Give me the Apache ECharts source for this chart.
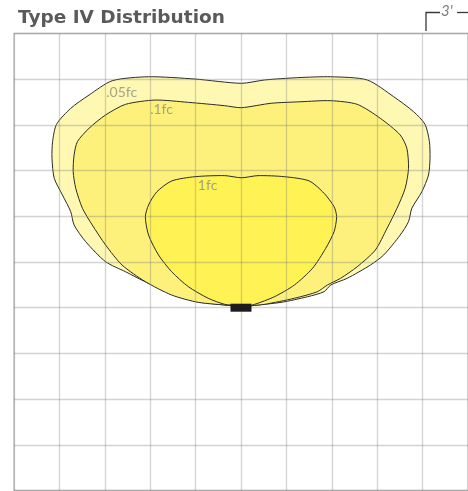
<!DOCTYPE html>
<html>
<head>
<meta charset="utf-8">
<script src="https://cdn.jsdelivr.net/npm/echarts@6/dist/echarts.min.js"></script>
<style>
html,body{margin:0;padding:0;background:#fff;}
#chart{width:468px;height:491px;}
</style>
</head>
<body>
<div id="chart"></div>
<script>
// Units: feet, luminaire at (0,0); each grid square = 3 ft
var titleText = 'Type IV Distribution';
var scaleLabel = "3'";
var contourNames = ['.05fc', '.1fc', '1fc'];

var contour005 = [
  [0,0],[-0.64,0.13],[-2.82,0.39],[-4.35,0.83],[-5.67,1.49],[-6.11,1.60],[-7.63,2.36],[-8.95,3.02],
  [-10.26,4.33],[-11.03,5.43],[-11.25,6.30],[-11.80,7.40],[-12.34,8.49],[-12.49,9.81],[-12.45,10.90],
  [-12.19,12.04],[-11.25,13.09],[-10.04,13.96],[-8.51,14.90],[-6.11,15.16],[-3.04,15.01],[0.02,14.73],
  [1.56,14.95],[3.74,15.10],[5.93,15.16],[8.34,14.95],[10.09,13.85],[11.40,12.87],[12.16,12.04],
  [12.45,10.90],[12.49,9.81],[12.39,8.71],[11.95,7.61],[11.29,6.53],[11.07,5.65],[10.52,4.77],
  [9.43,3.46],[8.55,2.80],[7.02,1.93],[5.93,1.49],[5.49,1.05],[4.40,0.72],[2.65,0.35],[0.68,0.13]
];
var contour01 = [
  [0,0],[-0.64,0.13],[-2.82,0.35],[-4.58,0.83],[-6.32,1.71],[-7.86,2.80],[-8.95,4.12],[-9.83,5.43],
  [-10.48,6.53],[-10.92,7.84],[-11.09,8.93],[-11.03,10.02],[-10.81,10.90],[-10.04,11.78],[-8.95,12.65],
  [-7.63,13.35],[-5.67,13.63],[-3.48,13.48],[-1.07,13.26],[0.02,13.13],
  [1.99,13.42],[3.96,13.52],[5.93,13.59],[7.68,13.35],[9.21,12.43],[10.52,11.34],[10.96,10.46],
  [11.07,9.15],[10.85,7.84],[10.31,6.53],[9.65,5.21],[8.88,3.79],[7.68,2.69],[6.58,1.93],[5.71,1.49],
  [5.05,1.05],[3.53,0.62],[1.56,0.22],[0.68,0.13]
];
var contour1 = [
  [0,0],[-0.20,0.13],[-1.07,0.22],[-2.17,0.62],[-3.48,1.38],[-4.58,2.36],[-5.45,3.46],[-6.11,4.77],
  [-6.32,5.97],[-6.11,6.74],[-5.56,7.61],[-4.58,8.32],[-3.04,8.60],[-1.07,8.67],[0.02,8.53],
  [1.12,8.67],[2.87,8.60],[4.51,8.32],[5.49,7.51],[6.15,6.63],[6.32,5.97],[6.15,4.99],[5.60,3.90],
  [4.73,2.59],[3.53,1.49],[2.21,0.72],[0.90,0.22]
];
var labelPositions = [[-8.9,14.16],[-6.0,12.98],[-2.85,8.05]];
var luminaire = [[0,0]];

var fills = ['#fef8b2', '#fdf17b', '#fff254'];
var contours = [contour005, contour01, contour1];

var chart = echarts.init(document.getElementById('chart'), null, {renderer:'canvas'});

function polySeries(data, color, z) {
  return {
    type: 'custom',
    coordinateSystem: 'cartesian2d',
    z: z,
    silent: true,
    data: [0],
    renderItem: function (params, api) {
      var pts = data.map(function (p) { return api.coord(p); });
      return {
        type: 'polygon',
        shape: { points: pts, smooth: 0.25 },
        style: { fill: color, stroke: '#2b2b2b', lineWidth: 1 }
      };
    }
  };
}

var series = [];
for (var i = 0; i < contours.length; i++) {
  series.push(polySeries(contours[i], fills[i], 2 + i));
}
series.push({
  type: 'scatter',
  z: 8,
  silent: true,
  data: labelPositions.map(function (p, i) { return { value: p, name: contourNames[i] }; }),
  symbolSize: 0,
  label: {
    show: true, position: 'right', distance: 0,
    formatter: function (p) { return p.name; },
    color: '#8e8e80', fontSize: 14, fontFamily: 'Lato, "Open Sans", sans-serif', fontWeight: 'normal'
  }
});
series.push({
  type: 'scatter',
  z: 9,
  silent: true,
  data: luminaire,
  symbol: 'rect',
  symbolSize: [21, 8],
  itemStyle: { color: '#1e1b1c', opacity: 1 }
});

var gridColor = 'rgba(120,120,120,0.33)';

chart.setOption({
  animation: false,
  backgroundColor: '#ffffff',
  title: {
    text: titleText,
    left: 13, top: 4,
    textStyle: { fontFamily: '"DejaVu Sans", sans-serif', fontWeight: 'bold', fontSize: 18.5, color: '#5a5a5a' }
  },
  grid: {
    left: 14, top: 33.5, width: 457, height: 457,
    show: true, borderColor: '#c4c4c4', borderWidth: 1.5, backgroundColor: 'transparent'
  },
  xAxis: {
    type: 'value', min: -15, max: 15, interval: 3, z: 6,
    axisLine: { show: false }, axisTick: { show: false }, axisLabel: { show: false },
    splitLine: { show: true, lineStyle: { color: gridColor, width: 1.3 } }
  },
  yAxis: {
    type: 'value', min: -12, max: 18, interval: 3, z: 6,
    axisLine: { show: false }, axisTick: { show: false }, axisLabel: { show: false },
    splitLine: { show: true, lineStyle: { color: gridColor, width: 1.3 } }
  },
  graphic: [
    { type: 'polyline', z: 10, shape: { points: [[426, 31], [426, 12.5], [440, 12.5]] },
      style: { stroke: '#3a3a3a', lineWidth: 1.3, fill: null } },
    { type: 'polyline', z: 10, shape: { points: [[457, 12.5], [468, 12.5]] },
      style: { stroke: '#3a3a3a', lineWidth: 1.3, fill: null } },
    { type: 'text', z: 10, left: 441, top: 4,
      style: { text: scaleLabel, fill: '#7a7a7a', fontSize: 15, fontFamily: 'Lato, sans-serif', fontStyle: 'italic', fontWeight: 'normal' } }
  ],
  series: series
});
</script>
</body>
</html>
